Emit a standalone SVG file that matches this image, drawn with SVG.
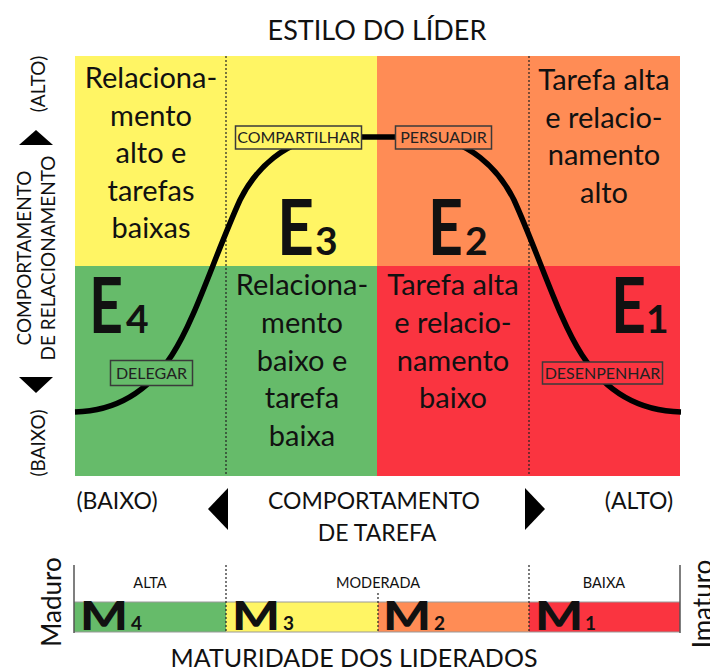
<svg xmlns="http://www.w3.org/2000/svg" width="710" height="671" viewBox="0 0 710 671">
<style>
text{font-family:Lato,"Liberation Sans",sans-serif;fill:#111}
.q{font-size:29px;text-anchor:middle}
.big{font-size:76px;font-weight:bold}
.sub{font-size:39px;font-weight:bold}
.box{stroke:#3a3a3a;stroke-width:1.5}
.bl{font-size:16px;text-anchor:middle;fill:#222}
.dot{stroke:#222;stroke-width:1.2;stroke-dasharray:2 2;fill:none}
.ax{font-size:23px;text-anchor:middle}
.lax{font-size:19px;text-anchor:middle}
.mm{font-size:40px;font-weight:900}
.md{font-size:19px;font-weight:bold}
.lv{font-size:14.5px;text-anchor:middle}
</style>
<rect width="710" height="671" fill="#fff"/>
<text x="377" y="40" font-size="27" text-anchor="middle">ESTILO DO LÍDER</text>

<g id="quadrants">
<rect x="75" y="56" width="302" height="210" fill="#FFF564"/>
<rect x="377" y="56" width="303" height="210" fill="#FF8C55"/>
<rect x="75" y="266" width="302" height="210" fill="#66BB6A"/>
<rect x="377" y="266" width="303" height="210" fill="#FA3440"/>
<line class="dot" x1="226" y1="56" x2="226" y2="476"/>
<line class="dot" x1="529" y1="56" x2="529" y2="476"/>
</g>

<g id="text-tl">
<text class="q" x="151" y="88">Relaciona-</text>
<text class="q" x="151" y="126">mento</text>
<text class="q" x="151" y="163">alto e</text>
<text class="q" x="151" y="201">tarefas</text>
<text class="q" x="151" y="238">baixas</text>
</g>
<g id="text-tr">
<text class="q" x="604" y="90">Tarefa alta</text>
<text class="q" x="604" y="128">e relacio-</text>
<text class="q" x="604" y="165">namento</text>
<text class="q" x="604" y="203">alto</text>
</g>
<g id="text-bm">
<text class="q" x="302" y="295">Relaciona-</text>
<text class="q" x="302" y="333">mento</text>
<text class="q" x="302" y="371">baixo e</text>
<text class="q" x="302" y="408">tarefa</text>
<text class="q" x="302" y="446">baixa</text>
</g>
<g id="text-br">
<text class="q" x="453" y="295">Tarefa alta</text>
<text class="q" x="453" y="333">e relacio-</text>
<text class="q" x="453" y="371">namento</text>
<text class="q" x="453" y="408">baixo</text>
</g>

<g id="connectors">
<path d="M75,412 C115,411 148,392 172,355 C195,320 215,255 240,200 C255,170 285,138 330,137 L424,137 C469,138 499,170 514,200 C539,255 559,320 582,355 C606,392 639,411 681,412" fill="none" stroke="#000" stroke-width="5.5"/>
</g>

<g id="node-compartilhar">
<rect class="box" x="235.5" y="126" width="126" height="23" fill="#FFF564"/>
<text class="bl" x="298.5" y="143">COMPARTILHAR</text>
</g>
<g id="node-persuadir">
<rect class="box" x="395.5" y="126" width="96" height="23" fill="#FF8C55"/>
<text class="bl" x="443.5" y="143">PERSUADIR</text>
</g>
<g id="node-delegar">
<rect class="box" x="110.5" y="360.5" width="82" height="25" fill="#66BB6A"/>
<text class="bl" x="151.5" y="379">DELEGAR</text>
</g>
<g id="node-desenpenhar">
<rect class="box" x="542.5" y="362" width="120" height="22" fill="#FA3440"/>
<text class="bl" x="602.5" y="379">DESENPENHAR</text>
</g>

<g id="node-e3"><text x="277" y="255"><tspan class="big" textLength="37" lengthAdjust="spacingAndGlyphs">E</tspan><tspan class="sub" dx="1">3</tspan></text></g>
<g id="node-e2"><text x="428" y="255"><tspan class="big" textLength="35" lengthAdjust="spacingAndGlyphs">E</tspan><tspan class="sub" dx="2">2</tspan></text></g>
<g id="node-e4"><text x="89" y="333"><tspan class="big" textLength="34" lengthAdjust="spacingAndGlyphs">E</tspan><tspan class="sub" dx="3">4</tspan></text></g>
<g id="node-e1"><text x="611" y="333"><tspan class="big" textLength="35" lengthAdjust="spacingAndGlyphs">E</tspan><tspan class="sub" dx="0">1</tspan></text></g>

<g id="left-axis">
<text class="lax" transform="translate(45,84) rotate(-90)" font-size="18">(ALTO)</text>
<polygon points="36,130 19,145 53,145" fill="#000"/>
<text class="lax" transform="translate(31,258) rotate(-90)">COMPORTAMENTO</text>
<text class="lax" transform="translate(55,258) rotate(-90)">DE RELACIONAMENTO</text>
<polygon points="19,377 53,377 36,393" fill="#000"/>
<text class="lax" transform="translate(45,443) rotate(-90)">(BAIXO)</text>
</g>

<g id="bottom-axis">
<text class="ax" x="117" y="509">(BAIXO)</text>
<polygon points="208,509 228,488 228,530" fill="#000"/>
<text class="ax" x="374" y="509">COMPORTAMENTO</text>
<text class="ax" x="377" y="541">DE TAREFA</text>
<polygon points="525,488 545,509 525,530" fill="#000"/>
<text class="ax" x="639" y="509">(ALTO)</text>
</g>

<g id="maturity">
<rect x="74" y="602" width="152" height="30" fill="#66BB6A"/>
<rect x="226" y="602" width="152" height="30" fill="#FFF564"/>
<rect x="378" y="602" width="151" height="30" fill="#FF8C55"/>
<rect x="529" y="602" width="151" height="30" fill="#FA3440"/>
<line x1="74" y1="602" x2="680" y2="602" stroke="#999" stroke-width="1.2"/>
<line x1="74" y1="632" x2="680" y2="632" stroke="#999" stroke-width="1"/>
<line x1="74" y1="565" x2="74" y2="633" stroke="#555" stroke-width="1.5"/>
<line x1="680" y1="565" x2="680" y2="633" stroke="#555" stroke-width="1.5"/>
<line class="dot" x1="226" y1="565" x2="226" y2="632"/>
<line class="dot" x1="378" y1="593" x2="378" y2="632"/>
<line class="dot" x1="529" y1="565" x2="529" y2="632"/>
<text class="lv" x="150" y="588">ALTA</text>
<text class="lv" x="378" y="588">MODERADA</text>
<text class="lv" x="604" y="588">BAIXA</text>
<text class="mm" x="80" y="630" textLength="48" lengthAdjust="spacingAndGlyphs">M</text><text class="md" x="131" y="630">4</text>
<text class="mm" x="232" y="630" textLength="48" lengthAdjust="spacingAndGlyphs">M</text><text class="md" x="283" y="630">3</text>
<text class="mm" x="383" y="630" textLength="48" lengthAdjust="spacingAndGlyphs">M</text><text class="md" x="434" y="630">2</text>
<text class="mm" x="535" y="630" textLength="48" lengthAdjust="spacingAndGlyphs">M</text><text class="md" x="585" y="630">1</text>
<text transform="translate(61,602) rotate(-90)" font-size="26" text-anchor="middle">Maduro</text>
<text transform="translate(712,604) rotate(-90)" font-size="26" text-anchor="middle">Imaturo</text>
<text x="354" y="667" font-size="25" text-anchor="middle">MATURIDADE DOS LIDERADOS</text>
</g>
</svg>
